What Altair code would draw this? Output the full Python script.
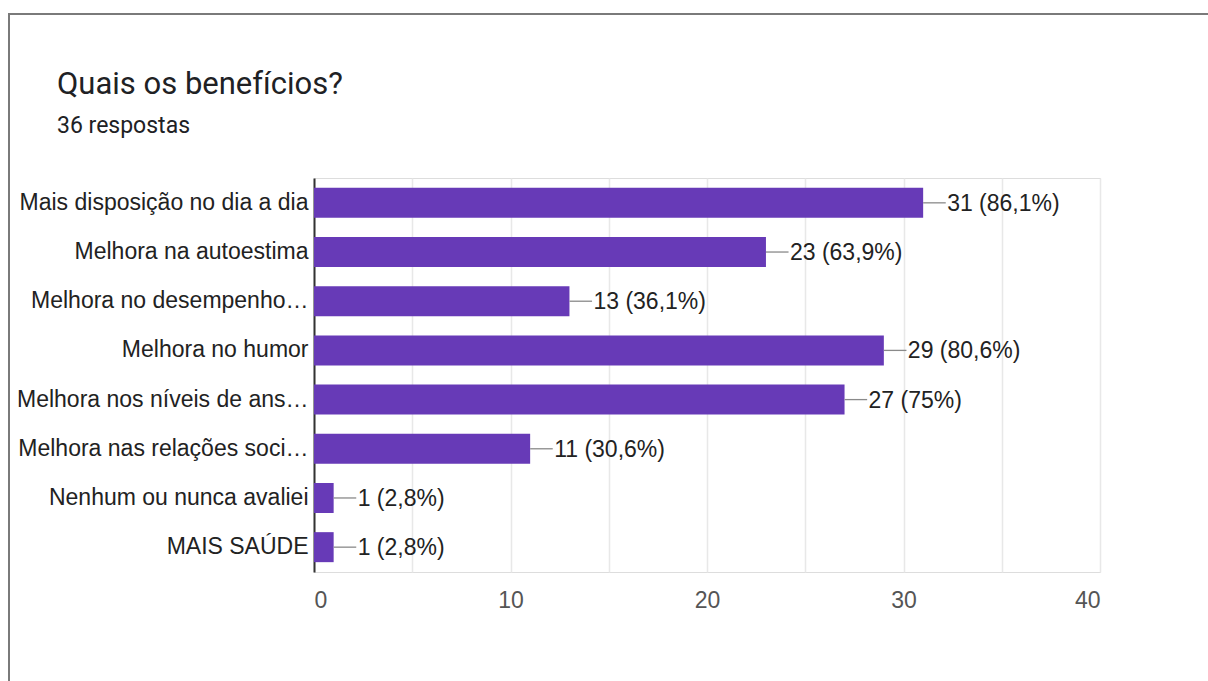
import altair as alt
import pandas as pd

categories = [
    "Mais disposição no dia a dia",
    "Melhora na autoestima",
    "Melhora no desempenho…",
    "Melhora no humor",
    "Melhora nos níveis de ans…",
    "Melhora nas relações soci…",
    "Nenhum ou nunca avaliei",
    "MAIS SAÚDE",
]
counts = [31, 23, 13, 29, 27, 11, 1, 1]
value_labels = [
    "31 (86,1%)", "23 (63,9%)", "13 (36,1%)", "29 (80,6%)",
    "27 (75%)", "11 (30,6%)", "1 (2,8%)", "1 (2,8%)",
]

df = pd.DataFrame({"cat": categories, "n": counts, "lab": value_labels})

FONT = "Liberation Sans"
PURPLE = "#673ab7"

y_enc = alt.Y(
    "cat:N",
    sort=categories,
    scale=alt.Scale(paddingInner=0.39, paddingOuter=0.2),
    axis=alt.Axis(
        title=None, ticks=False, grid=False, labelLimit=400,
        labelFont=FONT, labelFontSize=23, labelColor="#222222",
        labelPadding=6, domainColor="#333333", domainWidth=2,
    ),
)
x_enc = alt.X(
    "n:Q",
    scale=alt.Scale(domain=[0, 40], nice=False),
    axis=alt.Axis(
        title=None, values=list(range(0, 41, 5)), ticks=False, domain=False,
        labelExpr="datum.value % 10 == 0 ? datum.label : ''",
        labelFont=FONT, labelFontSize=23, labelColor="#555555",
        labelPadding=17, gridColor="#e8e8e8", gridWidth=1.5,
    ),
)

base = alt.Chart(df)

bars = base.mark_bar(color=PURPLE).encode(x=x_enc, y=y_enc)

connectors = base.transform_calculate(end="datum.n + 1.15").mark_rule(
    color="#8a8a8a", strokeWidth=1.3
).encode(x="n:Q", x2="end:Q", y=alt.Y("cat:N", sort=categories))

texts = base.mark_text(
    align="left", baseline="middle", dx=24, dy=1, font=FONT, fontSize=23, color="#222222"
).encode(x="n:Q", y=alt.Y("cat:N", sort=categories), text="lab:N")

frame = alt.Chart(alt.Data(values=[{"a": 1}])).mark_rect(
    fill=None, stroke="#7a7a7a", strokeWidth=2
).encode(
    x=alt.value(9 - 314), y=alt.value(14 - 178),
    x2=alt.value(1400), y2=alt.value(900),
)

chart = alt.layer(frame, bars, connectors, texts).properties(
    width=786,
    height=394,
    autosize="none",
    padding={"left": 314, "top": 178, "right": 108, "bottom": 109},
    title=alt.TitleParams(
        text="Quais os benefícios?",
        subtitle="36 respostas",
        anchor="start",
        frame="group",
        dx=-257,
        dy=164,
        offset=38,
        font="Roboto",
        fontSize=31,
        fontWeight="normal",
        color="#202124",
        subtitleFont="Roboto",
        subtitleFontSize=23,
        subtitleColor="#202124",
        subtitlePadding=14,
    ),
).configure_view(stroke="#e8e8e8", strokeWidth=1.5).configure(background="white")

chart.save("out.html", embed_options={"renderer": "svg", "actions": False})
